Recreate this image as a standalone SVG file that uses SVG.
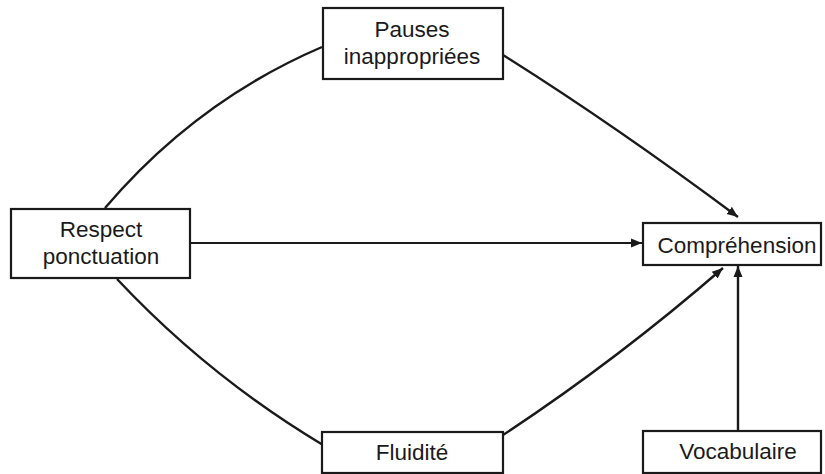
<svg xmlns="http://www.w3.org/2000/svg" width="825" height="474" viewBox="0 0 825 474">
  <style>
    .box { fill: #ffffff; stroke: #1a1a1a; stroke-width: 2.2; }
    .label { font-family: "Liberation Sans", Arial, sans-serif; font-size: 22.5px; fill: #1a1a1a; text-anchor: middle; }
    .edge { fill: none; stroke: #1a1a1a; stroke-width: 2.4; }
    .thin { stroke-width: 1.8; }
    .arrowed { marker-end: url(#head); }
  </style>
  <defs>
    <marker id="head" markerUnits="userSpaceOnUse" markerWidth="12" markerHeight="10" refX="11" refY="5" orient="auto">
      <path d="M0,0.5 L11,5 L0,9.5 Z" fill="#1a1a1a"/>
    </marker>
  </defs>

  <rect width="825" height="474" fill="#ffffff"/>

  <g id="connectors">
    <path class="edge" d="M105,208 Q196,101 322,47"/>
    <path class="edge arrowed" d="M503,55 Q613,124 738,217"/>
    <path class="edge" d="M117,279 Q208,376 323,445"/>
    <path class="edge arrowed" d="M503,435 Q617,360 723,268"/>
    <path class="edge thin arrowed" d="M190,243 L642,243"/>
    <path class="edge arrowed" d="M738,431 L738,266"/>
  </g>

  <g id="node-respect">
    <rect class="box" x="11" y="209" width="179" height="69"/>
    <text class="label" x="101" y="237">Respect</text>
    <text class="label" x="101" y="264">ponctuation</text>
  </g>

  <g id="node-pauses">
    <rect class="box" x="323" y="8" width="180" height="71"/>
    <text class="label" x="412" y="37">Pauses</text>
    <text class="label" x="412" y="64">inappropriées</text>
  </g>

  <g id="node-comprehension">
    <rect class="box" x="643" y="223" width="178" height="42"/>
    <text class="label" x="737" y="253">Compréhension</text>
  </g>

  <g id="node-fluidite">
    <rect class="box" x="322" y="432" width="181" height="41"/>
    <text class="label" x="412" y="460">Fluidité</text>
  </g>

  <g id="node-vocabulaire">
    <rect class="box" x="643" y="431" width="178" height="42"/>
    <text class="label" x="738" y="459">Vocabulaire</text>
  </g>
</svg>
